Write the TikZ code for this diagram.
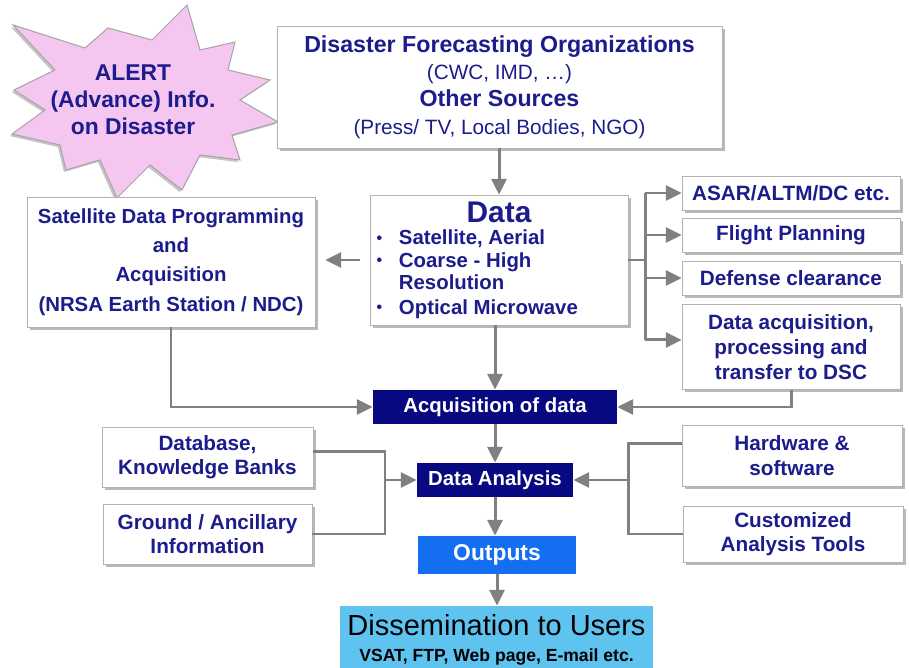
\documentclass[tikz,border=0pt]{standalone}
\usepackage{fontspec}
\setmainfont{Liberation Sans}
\usetikzlibrary{positioning,arrows.meta,shadows,calc}
\definecolor{fcText}{RGB}{28,28,140}
\definecolor{fcNavy}{RGB}{8,8,128}
\definecolor{fcBlue}{RGB}{20,110,240}
\definecolor{fcSky}{RGB}{95,195,240}
\definecolor{fcPink}{RGB}{245,198,240}
\definecolor{fcGray}{RGB}{128,128,128}

\begin{document}
\begin{tikzpicture}[x=0.02cm,y=-0.02cm,
    panel/.style={draw=gray!60, fill=white, text=fcText, align=center, inner sep=2pt,
      font=\fontsize{11.8}{14}\selectfont\bfseries,
      drop shadow={shadow xshift=1.6pt, shadow yshift=-1.6pt, opacity=1, fill=gray!55}},
    darkbox/.style={fill=fcNavy, text=white, minimum height=0.68cm,
      font=\fontsize{11.6}{14}\selectfont\bfseries},
    link/.style={draw=fcGray, line width=1.7pt},
    flow/.style={link, -{Triangle[length=9pt,width=8.5pt]}}]
  \useasboundingbox (0,0) rectangle (909,668);

  % alert burst
  \filldraw[fill=fcPink, draw=gray!70, line width=0.6pt,
            drop shadow={shadow xshift=-1.2pt, shadow yshift=-1.2pt, opacity=1, fill=gray!45}]
    (187,5) -- (200,50) -- (235,42) -- (228,70) -- (270,80) -- (240,100)
    -- (278,122) -- (232,135) -- (240,160) -- (200,155) -- (182,190)
    -- (150,165) -- (117,198) -- (100,160) -- (66,170) -- (60,145)
    -- (12,134) -- (45,110) -- (14,90) -- (55,70) -- (13,25) -- (85,48)
    -- (108,28) -- (152,40) -- cycle;
  \node[text=fcText, align=center, font=\fontsize{13}{15.5}\selectfont\bfseries]
    (alert) at (133,100) {ALERT\\(Advance) Info.\\on Disaster};

  % sources and data
  \node[panel, minimum width=8.9cm, minimum height=2.44cm,
        font=\fontsize{11.8}{15.5}\selectfont\bfseries] (src) at (499.5,87)
    {{\fontsize{13.2}{15.5}\selectfont Disaster Forecasting Organizations}\\
     {\mdseries (CWC, IMD, \ldots)}\\
     {\fontsize{13.2}{15.5}\selectfont Other Sources}\\
     {\mdseries (Press/ TV, Local Bodies, NGO)}};
  \node[panel, minimum width=5.16cm, minimum height=2.6cm, text width=4.9cm,
        align=flush left] (data) at (499,260)
    {{\centering\fontsize{17}{19}\selectfont Data\par}
     \fontsize{11.6}{12.8}\selectfont
     \makebox[1.1em][l]{\raisebox{0.12ex}{\small\textbullet}}Satellite, Aerial\\
     \makebox[1.1em][l]{\raisebox{0.12ex}{\small\textbullet}}Coarse - High\\
     \hspace*{1.1em}Resolution\\
     \makebox[1.1em][l]{\raisebox{0.12ex}{\small\textbullet}}Optical Microwave};
  \node[panel, minimum width=5.76cm, minimum height=2.6cm,
        font=\fontsize{11.6}{16.7}\selectfont\bfseries] (sat) at (171,262)
    {Satellite Data Programming\\and\\Acquisition\\(NRSA Earth Station / NDC)};

  % right column
  \foreach \nm/\y/\txt in {asar/193/{ASAR/ALTM/DC etc.}, plan/235/{Flight Planning},
      clear/278/{Defense clearance}}
    \node[panel, minimum width=4.36cm, minimum height=0.68cm] (\nm) at (791,\y) {\txt};
  \node[panel, minimum width=4.36cm, minimum height=1.7cm] (dacq) at (791,347)
    {Data acquisition,\\processing and\\transfer to DSC};

  % processing chain
  \node[darkbox, minimum width=4.88cm] (acq) at (495,407) {Acquisition of data};
  \node[darkbox, minimum width=3.12cm] (ana) at (495,480) {Data Analysis};
  \node[fill=fcBlue, text=white, minimum width=3.16cm, minimum height=0.76cm,
        font=\fontsize{13}{15}\selectfont\bfseries] (out) at (497,555) {Outputs};
  \node[fill=fcSky, text=black, align=center, inner sep=1pt, minimum width=6.26cm,
        minimum height=1.36cm, font=\fontsize{16.5}{14.7}\selectfont] (diss) at (496.5,640)
    {Dissemination to Users\\
     {\fontsize{10}{12}\selectfont\bfseries VSAT, FTP, Web page, E-mail etc.}};

  % inputs to analysis
  \node[panel, minimum width=4.22cm, minimum height=1.2cm] (db) at (207.5,457)
    {Database,\\Knowledge Banks};
  \node[panel, minimum width=4.18cm, minimum height=1.2cm] (gnd) at (207.5,534)
    {Ground / Ancillary\\Information};
  \node[panel, minimum width=4.4cm, minimum height=1.22cm] (hw) at (792,455.5)
    {Hardware \&\\software};
  \node[panel, minimum width=4.4cm, minimum height=1.12cm] (cust) at (793,534)
    {Customized\\Analysis Tools};

  % connectors
  \draw[flow] (data.north |- src.south) -- (data.north);
  \draw[flow, shorten <=0.2cm, shorten >=0.2cm] (data.west) -- (sat.east |- data.west);
  \coordinate (rbar) at (645,260);
  \coordinate (dacqin) at ([yshift=4pt]dacq.west);
  \draw[link] (data.east) -- (data.east -| rbar);
  \draw[link] (rbar |- asar.west) -- (rbar |- dacqin);
  \foreach \nm in {asar,plan,clear}
    \draw[flow] (rbar |- \nm.west) -- (\nm.west);
  \draw[flow] (rbar |- dacqin) -- (dacqin);
  \draw[flow] (dacq.south) |- (acq.east);
  \draw[flow] (sat.south) |- (acq.west);
  \draw[flow] (acq.north |- data.south) -- (acq.north);
  \draw[flow] (acq.south) -- (ana.north);
  \coordinate (lbar) at (385,480);
  \draw[link] ([yshift=3pt]db.east) -| (lbar) |- (gnd.east);
  \draw[flow] (lbar) -- (ana.west);
  \coordinate (rbar2) at (628,480);
  \draw[link] ([yshift=7pt]hw.west) -| (rbar2) |- (cust.west);
  \draw[flow] (rbar2) -- (ana.east);
  \draw[flow] (ana.south) -- (ana.south |- out.north);
  \draw[flow] (out.south) -- (out.south |- diss.north);
\end{tikzpicture}
\end{document}
